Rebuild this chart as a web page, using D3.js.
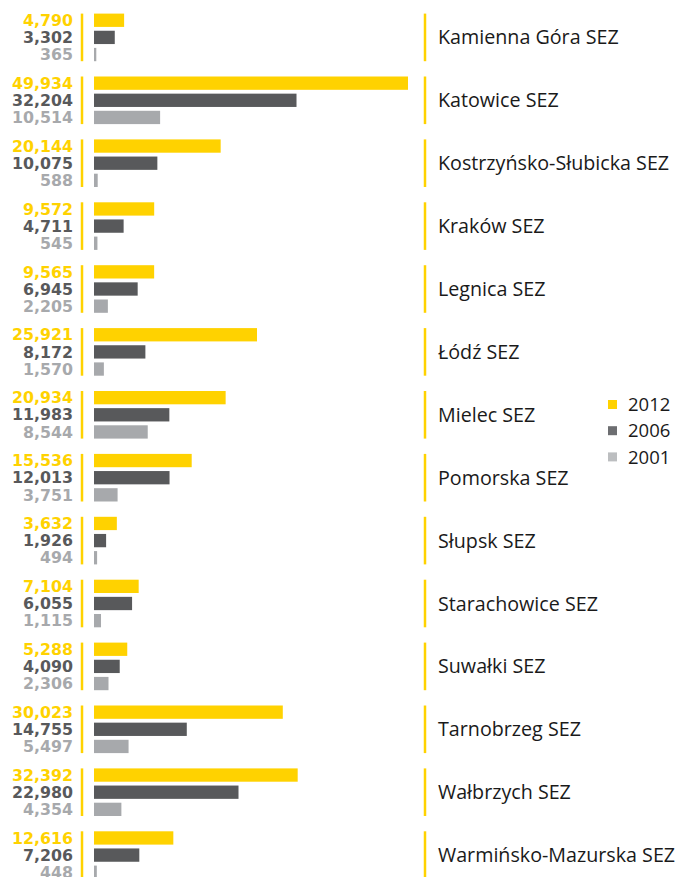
<!DOCTYPE html>
<html><head><meta charset="utf-8">
<script src="https://cdn.jsdelivr.net/npm/d3@7"></script>
<style>body{margin:0;background:#fff}svg{display:block}</style>
</head><body>
<svg id="chart" width="678" height="877"></svg>
<script>
const categories = ["Kamienna Góra SEZ","Katowice SEZ","Kostrzyńsko-Słubicka SEZ","Kraków SEZ","Legnica SEZ","Łódź SEZ","Mielec SEZ","Pomorska SEZ","Słupsk SEZ","Starachowice SEZ","Suwałki SEZ","Tarnobrzeg SEZ","Wałbrzych SEZ","Warmińsko-Mazurska SEZ"];
const years = ["2012","2006","2001"];
const values2012 = [4790,49934,20144,9572,9565,25921,20934,15536,3632,7104,5288,30023,32392,12616];
const values2006 = [3302,32204,10075,4711,6945,8172,11983,12013,1926,6055,4090,14755,22980,7206];
const values2001 = [365,10514,588,545,2205,1570,8544,3751,494,1115,2306,5497,4354,448];

const series = [values2012, values2006, values2001];
const barColors = ["#FFD200","#58595B","#A7A9AC"];
const legendColors = ["#FFD200","#6D6E71","#BCBEC0"];

const svg = d3.select("#chart");
const step = 62.9, bandH = 47.6, top0 = 13.6;
const y = d3.scaleBand().domain(categories)
  .range([top0, top0 + 13*step + bandH]).paddingInner((step-bandH)/step).paddingOuter(0);
const ySub = d3.scaleBand().domain(years).range([0, y.bandwidth()]).paddingInner(0.224);
const x = d3.scaleLinear().domain([0, 49934]).range([94, 408]);
const fmt = d3.format(",");

const g = svg.selectAll("g.grp").data(categories).join("g")
  .attr("class","grp").attr("transform", d => `translate(0,${y(d)})`);

g.append("line").attr("x1",82).attr("x2",82).attr("y1",0).attr("y2",y.bandwidth())
  .attr("stroke","#FFD200").attr("stroke-width",2.5);
g.append("line").attr("x1",425).attr("x2",425).attr("y1",0).attr("y2",y.bandwidth())
  .attr("stroke","#FFD200").attr("stroke-width",2.5);

years.forEach((yr, k) => {
  g.append("rect")
    .attr("x", x(0))
    .attr("y", ySub(yr))
    .attr("height", ySub.bandwidth())
    .attr("width", (d,i) => Math.max(1.5, x(series[k][i]) - x(0)))
    .attr("fill", barColors[k]);
  g.append("text")
    .attr("x", 73)
    .attr("y", ySub(yr) + ySub.bandwidth()/2)
    .attr("dy","0.36em")
    .attr("text-anchor","end")
    .attr("font-family","'DejaVu Sans',sans-serif")
    .attr("font-weight","bold")
    .attr("font-size","15.8px")
    .attr("fill", barColors[k])
    .text((d,i) => fmt(series[k][i]));
});

g.append("text")
  .attr("x", 438)
  .attr("y", y.bandwidth()/2)
  .attr("dy","0.36em")
  .attr("font-family","'Open Sans',sans-serif")
  .attr("font-size","19.7px")
  .attr("fill","#1a1a1a")
  .text(d => d);

const lg = svg.append("g");
years.forEach((yr,k) => {
  const cy = 404.5 + k*26.2;
  lg.append("rect").attr("x",608).attr("y",cy-4.5).attr("width",9).attr("height",9).attr("fill",legendColors[k]);
  lg.append("text").attr("x",628).attr("y",cy).attr("dy","0.36em")
    .attr("font-family","'Open Sans',sans-serif").attr("font-size","18.5px").attr("fill","#1a1a1a").text(yr);
});
</script>
</body></html>
